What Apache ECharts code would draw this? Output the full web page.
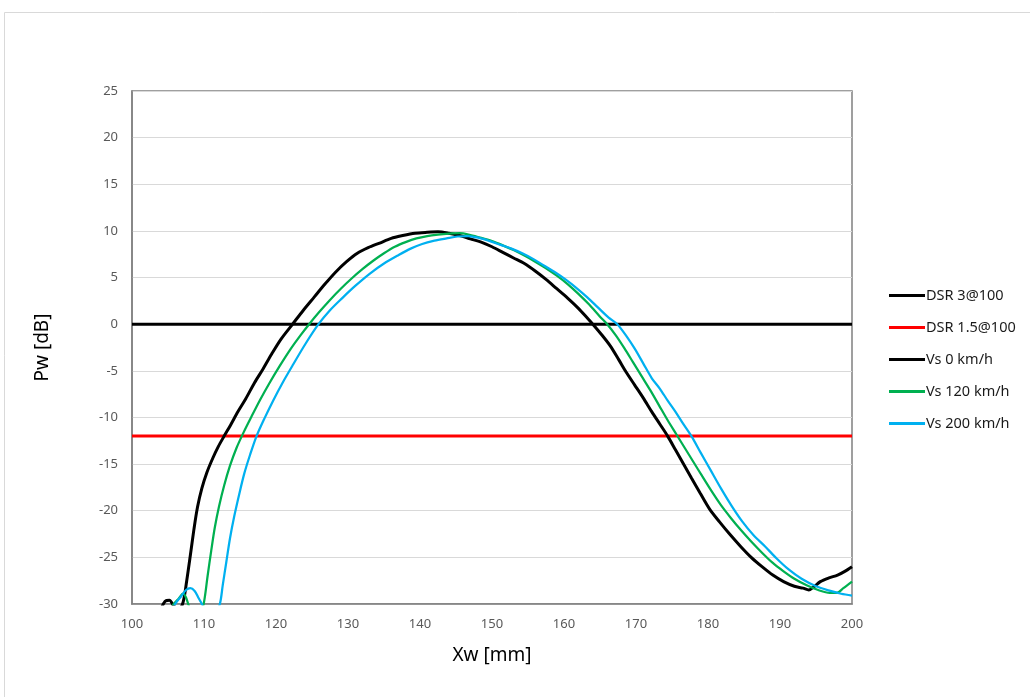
<!DOCTYPE html>
<html>
<head>
<meta charset="utf-8">
<script src="https://cdn.jsdelivr.net/npm/echarts@6/dist/echarts.min.js"></script>
<style>html,body{margin:0;padding:0;background:#fff;}#c{width:1030px;height:697px;}</style>
</head>
<body>
<div id="c"></div>
<script>
var seriesNames = ['DSR 3@100', 'DSR 1.5@100', 'Vs 0 km/h', 'Vs 120 km/h', 'Vs 200 km/h'];
var xTicks = [100, 110, 120, 130, 140, 150, 160, 170, 180, 190, 200];
var yTicks = [-30, -25, -20, -15, -10, -5, 0, 5, 10, 15, 20, 25];

var dsr3Data = [[100, 0], [200, 0]];
var dsr15Data = [[100, -12], [200, -12]];

var vs0Data = [
  [104, -30.6], [104.6, -29.7], [105.2, -29.6], [105.8, -30.2], [106.5, -30.6], [107.1, -29.8],
  [107.6, -27.5], [108.1, -24.8], [108.6, -22], [109.1, -19.6], [109.7, -17.6], [110.4, -15.9],
  [111.2, -14.4], [112, -13.1], [112.8, -12], [113.7, -10.8], [114.7, -9.4], [115.8, -8],
  [117, -6.3], [118.2, -4.8], [119.4, -3.2], [120.7, -1.6], [122.3, 0], [123.8, 1.5],
  [125.3, 2.9], [126.8, 4.3], [128.3, 5.6], [129.8, 6.7], [131.3, 7.6], [132.8, 8.2],
  [134.4, 8.7], [136, 9.2], [137.6, 9.5], [139.3, 9.75], [141, 9.85], [142.5, 9.9],
  [144, 9.75], [145.5, 9.5], [147, 9.15], [148.5, 8.8], [150, 8.3], [151.5, 7.7],
  [153, 7.1], [154.5, 6.5], [156, 5.7], [157.5, 4.8], [159, 3.8], [160.5, 2.8],
  [162, 1.7], [163.3, 0.6], [164, 0], [165.2, -1.1], [166.4, -2.3], [167.6, -3.8],
  [168.6, -5.1], [169.8, -6.5], [171, -7.9], [172.2, -9.4], [173.3, -10.7], [174.4, -12],
  [175.5, -13.5], [176.6, -15], [177.7, -16.5], [178.9, -18.1], [180.2, -19.8], [181.6, -21.2],
  [183, -22.5], [184.5, -23.8], [186, -25], [187.5, -26], [189, -26.9], [190.5, -27.6],
  [192, -28.1], [193.2, -28.3], [194, -28.5], [194.8, -28.1], [195.6, -27.6], [196.8, -27.2],
  [198, -26.9], [199, -26.5], [200, -26]
];

var vs120Data = [
  [105, -31], [105.8, -30], [106.5, -29.4], [107.1, -28.9], [107.5, -29.3], [107.9, -30.2],
  [108.5, -31], [109.5, -31], [110, -29.8], [110.5, -27], [111, -24.3], [111.5, -21.8],
  [112.1, -19.5], [112.8, -17.3], [113.6, -15.2], [114.5, -13.3], [115.5, -11.6], [116.6, -9.9],
  [117.8, -8.1], [119.1, -6.3], [120.5, -4.5], [122, -2.7], [123.5, -1.1], [124.6, 0],
  [126, 1.3], [127.5, 2.6], [129, 3.8], [130.5, 4.9], [132, 5.9], [133.5, 6.8], [135, 7.6],
  [136.5, 8.3], [138, 8.8], [139.5, 9.2], [141, 9.45], [142.5, 9.6], [144, 9.7], [145.5, 9.75],
  [147, 9.55], [148.5, 9.25], [150, 8.9], [151.5, 8.45], [153, 7.95], [154.5, 7.35],
  [156, 6.7], [157.5, 6], [159, 5.2], [160.5, 4.3], [162, 3.25], [163.5, 2.1], [165, 0.8],
  [166, 0], [167.2, -1.2], [168.4, -2.6], [169.6, -4.1], [170.8, -5.6], [172, -7.1],
  [173.2, -8.7], [174.4, -10.3], [175.6, -11.8], [176.8, -13.3], [178, -14.8], [179.2, -16.3],
  [180.5, -17.9], [181.8, -19.4], [183.2, -20.8], [184.6, -22.1], [186, -23.3], [187.5, -24.5],
  [189, -25.6], [190.5, -26.5], [192, -27.3], [193.7, -28], [195.3, -28.5], [196.9, -28.8],
  [197.9, -28.8], [198.8, -28.3], [200, -27.6]
];

var vs200Data = [
  [105.5, -31], [106, -30], [106.8, -29.2], [107.5, -28.5], [108.1, -28.3], [108.7, -28.6],
  [109.2, -29.3], [109.7, -30], [110.2, -31], [111.5, -31], [112.2, -30], [112.6, -28],
  [113.1, -25.5], [113.6, -23], [114.2, -20.6], [114.9, -18.2], [115.6, -16], [116.4, -14],
  [117.3, -12], [118.4, -10.1], [119.6, -8.2], [120.9, -6.3], [122.4, -4.3], [124.1, -2.1],
  [125.9, 0], [127.5, 1.5], [129.2, 2.8], [131, 4.1], [133, 5.4], [135, 6.5], [137, 7.4],
  [138.7, 8.1], [140.3, 8.6], [142, 8.95], [143.7, 9.2], [145.2, 9.4], [146.7, 9.45],
  [148.2, 9.25], [149.7, 8.9], [151.2, 8.5], [152.7, 8.1], [154.2, 7.6], [155.7, 7.0],
  [157.2, 6.3], [158.7, 5.6], [160.2, 4.8], [161.7, 3.9], [163.2, 2.9], [164.7, 1.8],
  [166.2, 0.7], [167.4, 0], [168.6, -1.2], [169.8, -2.6], [171, -4.2], [172.2, -5.8],
  [173.3, -6.9], [174.4, -8.2], [175.4, -9.3], [176.4, -10.5], [177.7, -12], [179, -13.8],
  [180.4, -15.7], [181.8, -17.6], [183.3, -19.5], [184.8, -21.2], [186.3, -22.6], [187.9, -23.8],
  [189.5, -25.1], [191.2, -26.3], [193, -27.3], [195, -28.1], [197, -28.6], [198.5, -28.9],
  [200, -29.1]
];

var chart = echarts.init(document.getElementById('c'), null, {renderer: 'canvas'});
var fontFam = '"Noto Sans", "Open Sans", sans-serif';

function lineSeries(name, data, color, width, smooth) {
  return {
    name: name, type: 'line', data: data, showSymbol: false, symbol: 'none',
    smooth: smooth, clip: true,
    lineStyle: {color: color, width: width},
    itemStyle: {color: color},
    emphasis: {disabled: true}
  };
}

chart.setOption({
  animation: false,
  backgroundColor: '#ffffff',
  graphic: [{
    type: 'rect', shape: {x: 4.5, y: 12.5, width: 1040, height: 700},
    style: {fill: 'none', stroke: '#d9d9d9', lineWidth: 1}, silent: true, z: -10
  }],
  grid: {left: 132, right: 178, top: 91, bottom: 93, show: true, borderColor: '#808080', borderWidth: 1.5, outerBoundsMode: 'none'},
  legend: {
    orient: 'vertical', left: 884, top: 283,
    data: seriesNames,
    icon: 'rect', itemWidth: 36, itemHeight: 3, itemGap: 17,
    textStyle: {fontFamily: fontFam, fontSize: 14.5, color: '#1a1a1a', padding: [0, 0, 0, -4]}
  },
  xAxis: {
    type: 'value', min: 100, max: 200, interval: 10,
    name: 'Xw [mm]', nameLocation: 'middle', nameGap: 42,
    nameTextStyle: {fontFamily: fontFam, fontSize: 19, color: '#000'},
    axisLine: {onZero: false, lineStyle: {color: '#808080', width: 1.5}},
    axisTick: {show: false},
    axisLabel: {fontFamily: fontFam, fontSize: 13, color: '#595959', margin: 14,
      formatter: function (v) { return xTicks.indexOf(v) >= 0 ? String(v) : ''; }},
    splitLine: {show: false}
  },
  yAxis: {
    type: 'value', min: -30, max: 25, interval: 5,
    name: 'Pw [dB]', nameLocation: 'middle', nameGap: 80,
    nameTextStyle: {fontFamily: fontFam, fontSize: 19, color: '#000'},
    axisLine: {show: true, lineStyle: {color: '#808080', width: 1.5}},
    axisTick: {show: false},
    axisLabel: {fontFamily: fontFam, fontSize: 13, color: '#595959', margin: 14,
      formatter: function (v) { return yTicks.indexOf(v) >= 0 ? String(v) : ''; }},
    splitLine: {show: true, lineStyle: {color: '#d9d9d9', width: 1}}
  },
  series: [
    lineSeries(seriesNames[0], dsr3Data, '#000000', 3, false),
    lineSeries(seriesNames[1], dsr15Data, '#ff0000', 3, false),
    lineSeries(seriesNames[2], vs0Data, '#000000', 3, 0.3),
    lineSeries(seriesNames[3], vs120Data, '#00b050', 2.25, 0.3),
    lineSeries(seriesNames[4], vs200Data, '#00b0f0', 2.25, 0.3)
  ]
});
</script>
</body>
</html>
